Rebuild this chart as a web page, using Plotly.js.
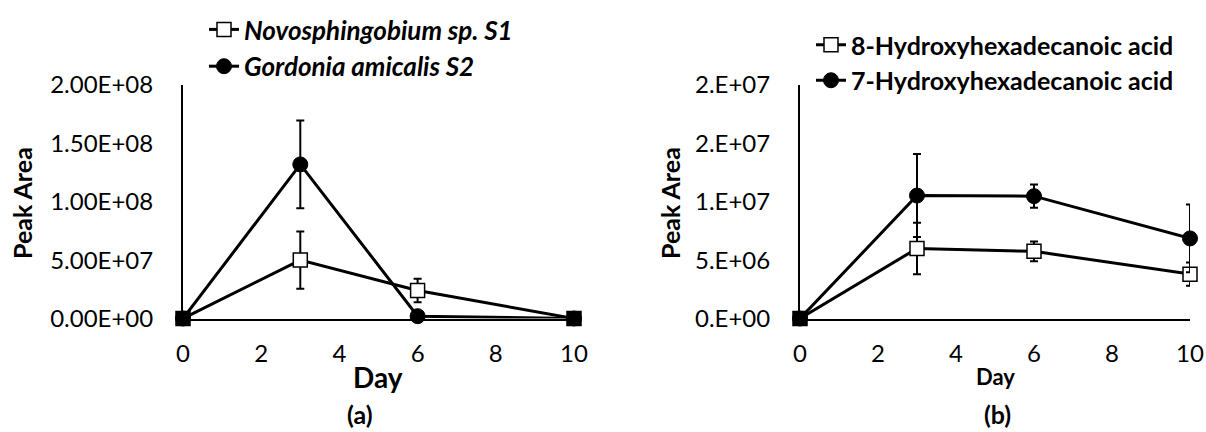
<!DOCTYPE html>
<html><head><meta charset="utf-8">
<script src="https://cdn.plot.ly/plotly-3.0.1.min.js"></script>
<style>html,body{margin:0;padding:0;background:#fff;}#chart{width:1206px;height:432px;}</style>
</head><body><div id="chart"></div>
<script>
// ---- data ----
const days = [0, 3, 6, 10];
// panel (a)
const seriesA1Name = 'Novosphingobium sp. S1';
const seriesA1 = [0, 5.0e7, 2.4e7, 0];
const seriesA1Err = [0, 2.45e7, 1.0e7, 0];
const seriesA2Name = 'Gordonia amicalis S2';
const seriesA2 = [0, 1.32e8, 2.0e6, 0];
const seriesA2Err = [0, 3.75e7, 0, 0];
const yTicksA = [0, 5e7, 1e8, 1.5e8, 2e8];
const yTickTextA = ['0.00E+00', '5.00E+07', '1.00E+08', '1.50E+08', '2.00E+08'];
// panel (b)
const seriesB1Name = '8-Hydroxyhexadecanoic acid';
const seriesB1 = [0, 6.0e6, 5.75e6, 3.8e6];
const seriesB1Err = [0, 2.2e6, 0.85e6, 1.0e6];
const seriesB2Name = '7-Hydroxyhexadecanoic acid';
const seriesB2 = [0, 1.053e7, 1.048e7, 6.86e6];
const seriesB2Err = [0, 3.55e6, 1.0e6, 2.9e6];
const yTicksB = [0, 5e6, 1e7, 1.5e7, 2e7];
const yTickTextB = ['0.E+00', '5.E+06', '1.E+07', '2.E+07', '2.E+07'];
const xTicks = [0, 2, 4, 6, 8, 10];

const FONT = 'Lato, "Liberation Sans", Arial, sans-serif';

function sq(vals){ return vals.map(v => v === 0 ? 'black' : 'white'); }

const sqMarker = {symbol: 'square', size: 14, color: 'white', line: {color: 'black', width: 1.5}};
const ciMarker = {symbol: 'circle', size: 15, color: 'black', line: {color: 'black', width: 1}};

function squareTrace(name, y, err, xa, ya){
  return {x: days, y: y, name: name, type: 'scatter', mode: 'lines+markers',
    xaxis: xa, yaxis: ya, showlegend: false, cliponaxis: false,
    line: {color: 'black', width: 3},
    marker: Object.assign({}, sqMarker, {color: sq(y)}),
    error_y: {type: 'data', array: err, visible: true, color: 'black', thickness: 2, width: 4}};
}
function circleTrace(name, y, err, xa, ya){
  return {x: days, y: y, name: name, type: 'scatter', mode: 'lines+markers',
    xaxis: xa, yaxis: ya, showlegend: false, cliponaxis: false,
    line: {color: 'black', width: 3},
    marker: ciMarker,
    error_y: {type: 'data', array: err, visible: true, color: 'black', thickness: 2, width: 4}};
}
// legend entries (no data points drawn)
function legendEntry(name, marker, xa, ya, legend){
  return {x: [null], y: [null], name: name, type: 'scatter', mode: 'lines+markers',
    xaxis: xa, yaxis: ya, legend: legend, showlegend: true,
    line: {color: 'black', width: 3}, marker: marker};
}

const data = [
  squareTrace(seriesA1Name, seriesA1, seriesA1Err, 'x', 'y'),
  circleTrace(seriesA2Name, seriesA2, seriesA2Err, 'x', 'y'),
  squareTrace(seriesB1Name, seriesB1, seriesB1Err, 'x2', 'y2'),
  circleTrace(seriesB2Name, seriesB2, seriesB2Err, 'x2', 'y2'),
  legendEntry(seriesA1Name, sqMarker, 'x', 'y', 'legend'),
  legendEntry(seriesA2Name, ciMarker, 'x', 'y', 'legend'),
  legendEntry(seriesB1Name, sqMarker, 'x2', 'y2', 'legend2'),
  legendEntry(seriesB2Name, ciMarker, 'x2', 'y2', 'legend2')
];

const W = 1206, H = 432;
const yDom = [1 - 318.5/H, 1 - 85/H];
function xAxis(dom){
  return {domain: dom, range: [0, 10], tickvals: xTicks, ticktext: xTicks.map(String),
    showgrid: false, zeroline: false, showline: true, linecolor: 'black', linewidth: 2,
    ticks: '', ticklabelstandoff: 13, tickfont: {family: FONT, size: 24, color: 'black'},
    fixedrange: true};
}
function yAxis(anchor, ticks, text, maxv){
  return {domain: yDom, anchor: anchor, range: [0, maxv], tickvals: ticks, ticktext: text,
    showgrid: false, zeroline: false, showline: true, linecolor: 'black', linewidth: 2,
    ticks: '', ticklabelstandoff: 23, tickfont: {family: FONT, size: 24, color: 'black'},
    fixedrange: true};
}

function ann(text, x, y, size, angle){
  return {text: text, xref: 'paper', yref: 'paper', x: x/W, y: 1 - y/H,
    xanchor: 'center', yanchor: 'middle', textangle: angle || 0, showarrow: false,
    font: {family: FONT, size: size, color: 'black', weight: 'bold'}};
}

const layout = {
  width: W, height: H,
  margin: {l: 0, r: 0, t: 0, b: 0},
  paper_bgcolor: 'white', plot_bgcolor: 'white',
  showlegend: true,
  xaxis: xAxis([183/W, 574/W]),
  yaxis: yAxis('x', yTicksA, yTickTextA, 2e8),
  xaxis2: xAxis([800/W, 1190/W]),
  yaxis2: yAxis('x2', yTicksB, yTickTextB, 2e7),
  legend: {x: 204/W, xanchor: 'left', y: 1 - 6/H, yanchor: 'top', bgcolor: 'rgba(0,0,0,0)',
    font: {family: FONT, size: 26, color: 'black', style: 'italic', weight: 'bold'},
    itemwidth: 30, tracegroupgap: 0},
  legend2: {x: 811/W, xanchor: 'left', y: 1 - 22/H, yanchor: 'top', bgcolor: 'rgba(0,0,0,0)',
    font: {family: FONT, size: 25, color: 'black', weight: 'bold'},
    itemwidth: 30, tracegroupgap: 0},
  annotations: [
    ann('Peak Area', 22, 203, 25, -90),
    ann('Peak Area', 670, 203, 25, -90),
    ann('Day', 378, 377, 28),
    ann('Day', 995, 376, 22),
    ann('(a)', 360, 414, 25),
    ann('(b)', 997, 414, 25)
  ]
};

Plotly.newPlot('chart', data, layout, {displayModeBar: false, staticPlot: true});
</script></body></html>
